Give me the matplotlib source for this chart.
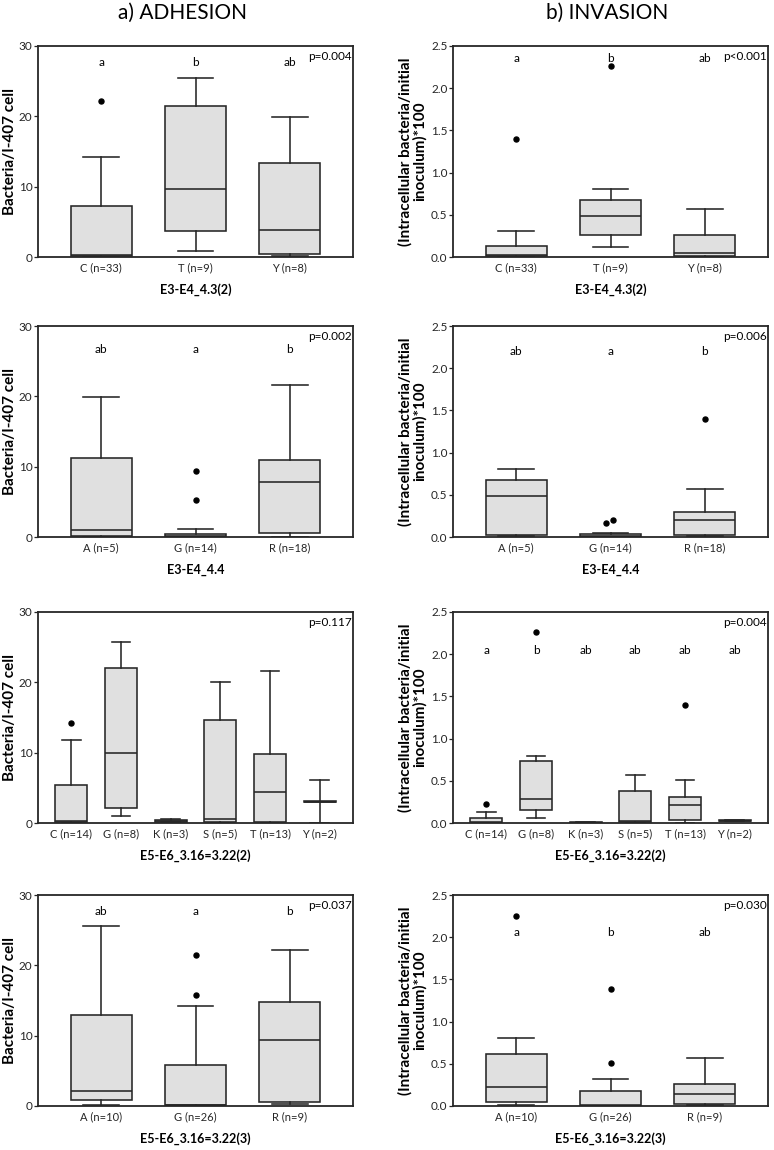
import matplotlib
matplotlib.use("Agg")
import matplotlib.pyplot as plt

plt.rcParams['font.family'] = ['Lato', 'DejaVu Sans']

# ---------------- data ----------------
# Row 1: E3-E4_4.3(2)
r1_labels = ["C (n=33)", "T (n=9)", "Y (n=8)"]
r1_title = "E3-E4_4.3(2)"
adh1_whislo = [0.0, 0.9, 0.15]
adh1_q1 = [0.1, 3.7, 0.4]
adh1_med = [0.3, 9.7, 3.8]
adh1_q3 = [7.25, 21.4, 13.3]
adh1_whishi = [14.2, 25.5, 19.9]
adh1_fliers = [[22.2], [], []]
adh1_letters = ["a", "b", "ab"]
adh1_letter_y = 27.7
adh1_p = "p=0.004"

inv1_whislo = [0.0, 0.115, 0.0]
inv1_q1 = [0.008, 0.257, 0.015]
inv1_med = [0.025, 0.487, 0.05]
inv1_q3 = [0.13, 0.68, 0.265]
inv1_whishi = [0.31, 0.80, 0.57]
inv1_fliers = [[1.40], [2.26], []]
inv1_letters = ["a", "b", "ab"]
inv1_letter_y = 2.35
inv1_p = "p<0.001"

# Row 2: E3-E4_4.4
r2_labels = ["A (n=5)", "G (n=14)", "R (n=18)"]
r2_title = "E3-E4_4.4"
adh2_whislo = [0.05, 0.0, 0.0]
adh2_q1 = [0.2, 0.05, 0.6]
adh2_med = [0.95, 0.2, 7.8]
adh2_q3 = [11.3, 0.45, 11.0]
adh2_whishi = [19.95, 1.1, 21.6]
adh2_fliers = [[], [5.3, 9.35], []]
adh2_letters = ["ab", "a", "b"]
adh2_letter_y = 26.6
adh2_p = "p=0.002"

inv2_whislo = [0.01, 0.0, 0.01]
inv2_q1 = [0.028, 0.005, 0.028]
inv2_med = [0.48, 0.012, 0.20]
inv2_q3 = [0.67, 0.035, 0.30]
inv2_whishi = [0.80, 0.045, 0.565]
inv2_fliers = [[], [0.17, 0.20], [1.40]]
inv2_letters = ["ab", "a", "b"]
inv2_letter_y = 2.2
inv2_p = "p=0.006"

# Row 3: E5-E6_3.16=3.22(2)
r3_labels = ["C (n=14)", "G (n=8)", "K (n=3)", "S (n=5)", "T (n=13)", "Y (n=2)"]
r3_title = "E5-E6_3.16=3.22(2)"
adh3_whislo = [0.0, 1.0, 0.1, 0.0, 0.0, 0.0]
adh3_q1 = [0.1, 2.2, 0.2, 0.2, 0.15, 2.95]
adh3_med = [0.3, 10.0, 0.3, 0.5, 4.4, 3.05]
adh3_q3 = [5.4, 22.0, 0.45, 14.65, 9.85, 3.15]
adh3_whishi = [11.8, 25.7, 0.5, 20.05, 21.6, 6.1]
adh3_fliers = [[14.2], [], [], [], [], []]
adh3_letters = []
adh3_letter_y = None
adh3_p = "p=0.117"

inv3_whislo = [0.0, 0.055, 0.0, 0.0, 0.0, 0.018]
inv3_q1 = [0.005, 0.158, 0.002, 0.01, 0.036, 0.02]
inv3_med = [0.01, 0.29, 0.005, 0.024, 0.218, 0.025]
inv3_q3 = [0.063, 0.737, 0.01, 0.38, 0.31, 0.032]
inv3_whishi = [0.127, 0.796, 0.012, 0.567, 0.51, 0.035]
inv3_fliers = [[0.226], [2.26], [], [], [1.40], []]
inv3_letters = ["a", "b", "ab", "ab", "ab", "ab"]
inv3_letter_y = 2.04
inv3_p = "p=0.004"

# Row 4: E5-E6_3.16=3.22(3)
r4_labels = ["A (n=10)", "G (n=26)", "R (n=9)"]
r4_title = "E5-E6_3.16=3.22(3)"
adh4_whislo = [0.2, 0.0, 0.3]
adh4_q1 = [0.9, 0.1, 0.6]
adh4_med = [2.2, 0.2, 9.4]
adh4_q3 = [12.9, 5.83, 14.8]
adh4_whishi = [25.6, 14.2, 22.2]
adh4_fliers = [[], [15.8, 21.5], []]
adh4_letters = ["ab", "a", "b"]
adh4_letter_y = 27.6
adh4_p = "p=0.037"

inv4_whislo = [0.012, 0.0, 0.008]
inv4_q1 = [0.05, 0.005, 0.024]
inv4_med = [0.22, 0.015, 0.142]
inv4_q3 = [0.616, 0.178, 0.26]
inv4_whishi = [0.80, 0.32, 0.565]
inv4_fliers = [[2.255], [0.51, 1.39], []]
inv4_letters = ["a", "b", "ab"]
inv4_letter_y = 2.06
inv4_p = "p=0.030"

adh_ylabel = "Bacteria/I-407 cell"
inv_ylabel = "(Intracellular bacteria/initial\ninoculum)*100"
adh_yticks = [0, 10, 20, 30]
adh_yticklabels = ["0", "10", "20", "30"]
inv_yticks = [0.0, 0.5, 1.0, 1.5, 2.0, 2.5]
inv_yticklabels = ["0.0", "0.5", "1.0", "1.5", "2.0", "2.5"]

# ---------------- figure ----------------
W, H = 774, 1150
fig = plt.figure(figsize=(W / 100, H / 100), dpi=100)

EDGE = "#262626"
FACE = "#e0e0e0"
TXT = "#262626"


def add_axes_px(left, top, width, height):
    return fig.add_axes([left / W, 1 - (top + height) / H, width / W, height / H])


def draw_panel(ax, labels, whislo, q1, med, q3, whishi, fliers, letters, letter_y,
               ptext, ymax, yticks, yticklabels, ylabel, ylabel_x, xlabel, flier_dx=None):
    n = len(labels)
    pos = list(range(1, n + 1))
    stats = []
    for i in range(n):
        stats.append(dict(whislo=whislo[i], q1=q1[i], med=med[i], q3=q3[i],
                          whishi=whishi[i], fliers=[], label=labels[i]))
    lw = 1.15
    ax.bxp(stats, positions=pos, widths=0.65, patch_artist=True, showfliers=False,
           boxprops=dict(facecolor=FACE, edgecolor=EDGE, linewidth=lw),
           medianprops=dict(color=EDGE, linewidth=lw),
           whiskerprops=dict(color=EDGE, linewidth=lw),
           capprops=dict(color=EDGE, linewidth=lw),
           capwidths=0.38)
    for i, fl in enumerate(fliers):
        for j, v in enumerate(fl):
            dx = 0.0
            if flier_dx is not None:
                dx = flier_dx[i][j]
            ax.plot(pos[i] + dx, v, 'o', color='black', markersize=3.6, zorder=5)
    for i, l in enumerate(letters):
        ax.text(pos[i], letter_y, l, ha='center', va='center', fontsize=8.5, color='black')
    ax.text(0.995, 0.975, ptext, ha='right', va='top', transform=ax.transAxes,
            fontsize=8.5, color='black')
    ax.set_xlim(0.33, n + 0.67)
    ax.set_ylim(0, ymax)
    ax.set_yticks(yticks)
    ax.set_yticklabels(yticklabels)
    ax.set_xticks(pos)
    ax.set_xticklabels(labels)
    ax.tick_params(axis='y', direction='out', length=3, width=0.9, colors=EDGE,
                   labelsize=8.5, pad=1, labelcolor=TXT)
    ax.tick_params(axis='x', length=0, labelsize=8, pad=4, labelcolor=TXT)
    for s in ax.spines.values():
        s.set_linewidth(1.3)
        s.set_color(EDGE)
    ax.set_ylabel(ylabel, fontsize=11, fontweight='bold', color='black',
                  linespacing=1.0)
    ax.yaxis.set_label_coords(ylabel_x, 0.5)
    ax.text(0.5, -0.156, xlabel, ha='center', va='center', transform=ax.transAxes,
            fontsize=9, fontweight='bold', color='black')


rows_top = [46, 326, 612, 895]
AX_W, AX_H = 315, 211
LEFT_X, RIGHT_X = 38, 453

panels = [
    (r1_labels, r1_title,
     (adh1_whislo, adh1_q1, adh1_med, adh1_q3, adh1_whishi, adh1_fliers, adh1_letters, adh1_letter_y, adh1_p, None),
     (inv1_whislo, inv1_q1, inv1_med, inv1_q3, inv1_whishi, inv1_fliers, inv1_letters, inv1_letter_y, inv1_p, None)),
    (r2_labels, r2_title,
     (adh2_whislo, adh2_q1, adh2_med, adh2_q3, adh2_whishi, adh2_fliers, adh2_letters, adh2_letter_y, adh2_p, None),
     (inv2_whislo, inv2_q1, inv2_med, inv2_q3, inv2_whishi, inv2_fliers, inv2_letters, inv2_letter_y, inv2_p,
      [[], [-0.045, 0.03], [0.0]])),
    (r3_labels, r3_title,
     (adh3_whislo, adh3_q1, adh3_med, adh3_q3, adh3_whishi, adh3_fliers, adh3_letters, adh3_letter_y, adh3_p, None),
     (inv3_whislo, inv3_q1, inv3_med, inv3_q3, inv3_whishi, inv3_fliers, inv3_letters, inv3_letter_y, inv3_p, None)),
    (r4_labels, r4_title,
     (adh4_whislo, adh4_q1, adh4_med, adh4_q3, adh4_whishi, adh4_fliers, adh4_letters, adh4_letter_y, adh4_p, None),
     (inv4_whislo, inv4_q1, inv4_med, inv4_q3, inv4_whishi, inv4_fliers, inv4_letters, inv4_letter_y, inv4_p, None)),
]

for r, (labels, xt, adh, inv) in enumerate(panels):
    axl = add_axes_px(LEFT_X, rows_top[r], AX_W, AX_H)
    draw_panel(axl, labels, *adh[:9], 30, adh_yticks, adh_yticklabels, adh_ylabel,
               -0.066, xt, flier_dx=adh[9])
    axr = add_axes_px(RIGHT_X, rows_top[r], AX_W, AX_H)
    draw_panel(axr, labels, *inv[:9], 2.5, inv_yticks, inv_yticklabels, inv_ylabel,
               -0.083, xt, flier_dx=inv[9])

fig.text(183 / W, 1 - 13 / H, "a) ADHESION", ha='center', va='center', fontsize=15, color='black')
fig.text(607 / W, 1 - 13 / H, "b) INVASION", ha='center', va='center', fontsize=15, color='black')

fig.savefig("out.png", dpi=100)
